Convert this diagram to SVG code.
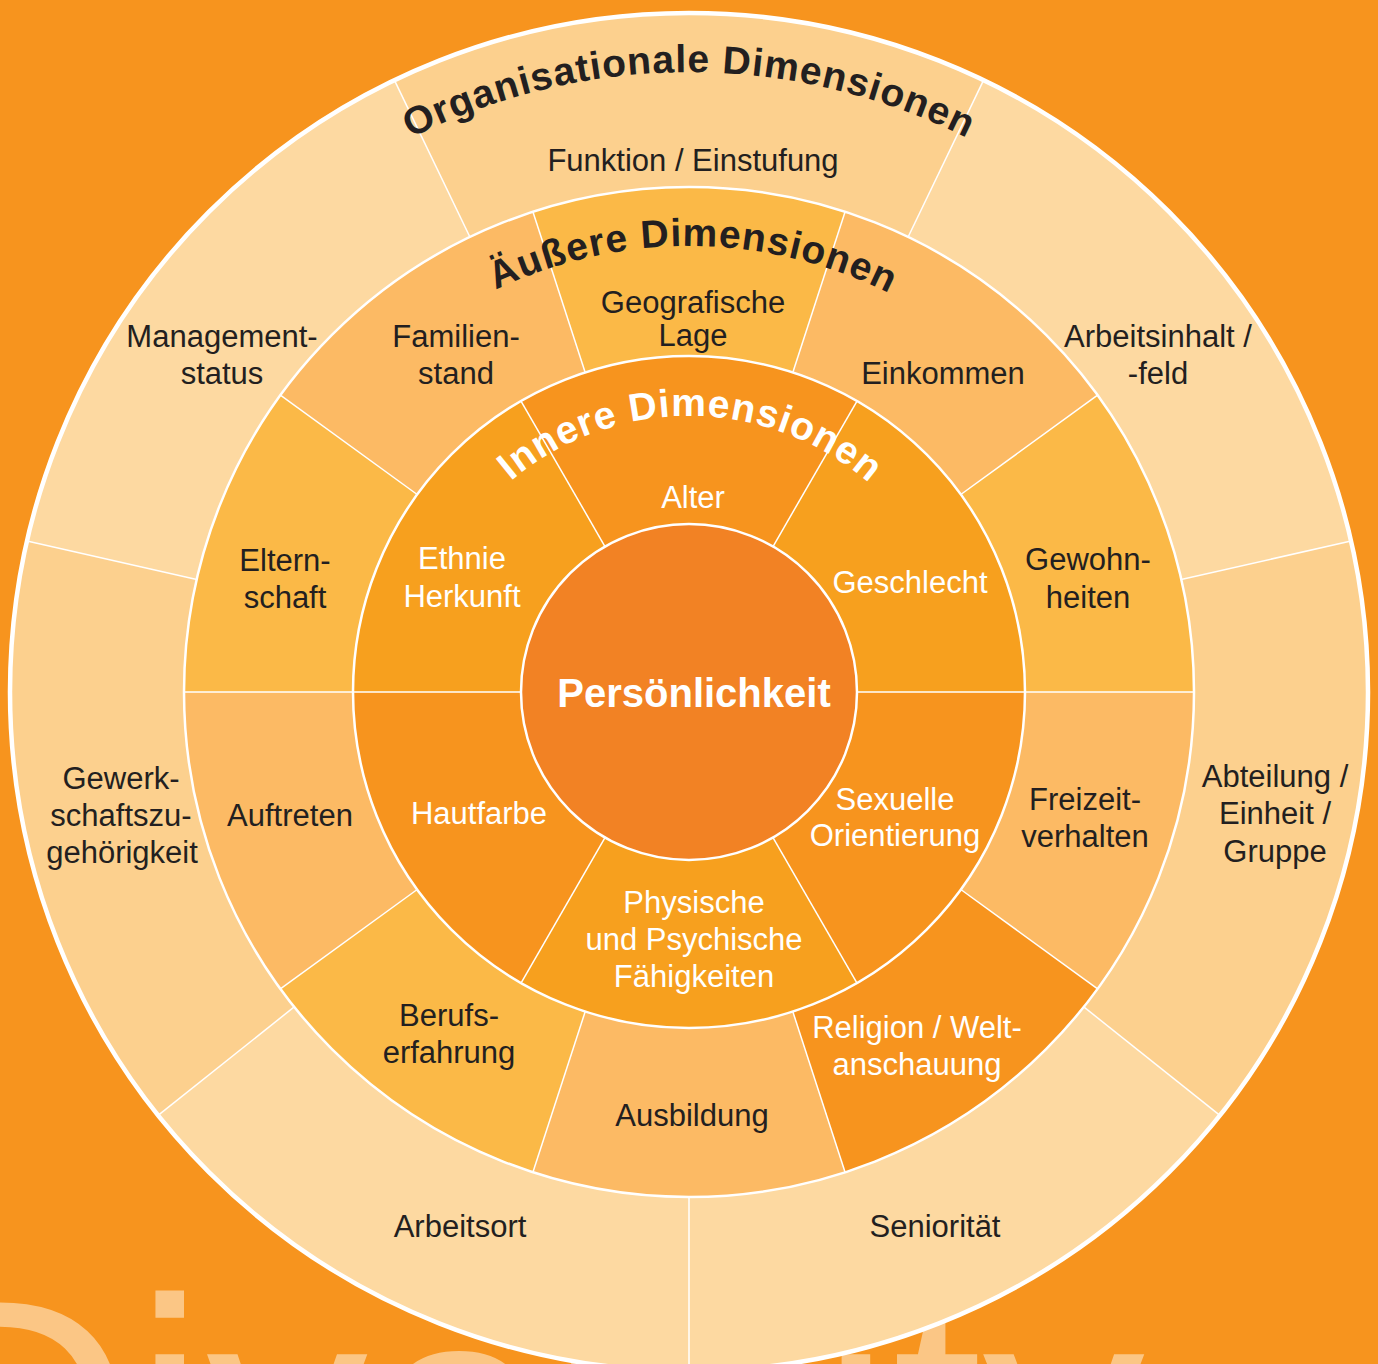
<svg xmlns="http://www.w3.org/2000/svg" width="1378" height="1364" viewBox="0 0 1378 1364">
  <defs>
    <style>
      .lbl { font-family: "Liberation Sans", Arial, sans-serif; font-size: 31px; text-anchor: middle; }
      .dark { fill: #231F20; }
      .light { fill: #FFFFFF; }
      .title { font-family: "Liberation Sans", Arial, sans-serif; font-weight: bold; font-size: 39px; letter-spacing: 1px; text-anchor: middle; }
      .ring { fill: none; stroke: #FFFFFF; stroke-width: 2.5; }
      .rad { stroke: #FFFFFF; stroke-width: 1.5; }
      .o1 { fill: #FCD08E; }
      .o2 { fill: #FDD9A1; }
      .m1 { fill: #FBB947; }
      .m2 { fill: #FCBA64; }
      .d1 { fill: #F7941E; }
      .d2 { fill: #F7A01E; }
    </style>
    <path id="arcOrg" d="M 69 692 A 620 620 0 0 1 1309 692"/>
    <path id="arcAus" d="M 243 692 A 446 446 0 0 1 1135 692"/>
    <path id="arcInn" d="M 413 692 A 276 276 0 0 1 965 692"/>
  </defs>

  <rect x="0" y="0" width="1378" height="1364" fill="#F7941E"/>
  <text id="watermark" x="-101" y="1526" font-family="'Liberation Sans', Arial, sans-serif" font-size="325" fill="#FBC685">Diversity</text>

  <!-- Outer ring: organisationale Dimensionen -->
  <g id="funktion">
    <path class="o1" d="M689,692 L394.4,80.2 A679,679 0 0 1 983.6,80.2 Z"/>
    <text class="lbl dark" x="693" y="171">Funktion / Einstufung</text>
  </g>
  <g id="arbeitsinhalt">
    <path class="o2" d="M689,692 L983.6,80.2 A679,679 0 0 1 1351,540.9 Z"/>
    <text class="lbl dark" x="1158" y="347">Arbeitsinhalt /</text>
    <text class="lbl dark" x="1158" y="384">-feld</text>
  </g>
  <g id="abteilung">
    <path class="o1" d="M689,692 L1351,540.9 A679,679 0 0 1 1219.9,1115.4 Z"/>
    <text class="lbl dark" x="1275" y="787">Abteilung /</text>
    <text class="lbl dark" x="1275" y="824">Einheit /</text>
    <text class="lbl dark" x="1275" y="862">Gruppe</text>
  </g>
  <g id="senioritaet">
    <path class="o2" d="M689,692 L1219.9,1115.4 A679,679 0 0 1 689,1371 Z"/>
    <text class="lbl dark" x="935" y="1237">Seniorität</text>
  </g>
  <g id="arbeitsort">
    <path class="o2" d="M689,692 L689,1371 A679,679 0 0 1 158.1,1115.4 Z"/>
    <text class="lbl dark" x="460" y="1237">Arbeitsort</text>
  </g>
  <g id="gewerkschaft">
    <path class="o1" d="M689,692 L158.1,1115.4 A679,679 0 0 1 27,540.9 Z"/>
    <text class="lbl dark" x="121" y="789">Gewerk-</text>
    <text class="lbl dark" x="121" y="826">schaftszu-</text>
    <text class="lbl dark" x="122" y="863">gehörigkeit</text>
  </g>
  <g id="management">
    <path class="o2" d="M689,692 L27,540.9 A679,679 0 0 1 394.4,80.2 Z"/>
    <text class="lbl dark" x="222" y="347">Management-</text>
    <text class="lbl dark" x="222" y="384">status</text>
  </g>

  <!-- Middle ring: äußere Dimensionen -->
  <g id="geografische-lage">
    <path class="m1" d="M689,692 L532.9,211.7 A505,505 0 0 1 845.1,211.7 Z"/>
    <text class="lbl dark" x="693" y="313">Geografische</text>
    <text class="lbl dark" x="693" y="346">Lage</text>
  </g>
  <g id="einkommen">
    <path class="m2" d="M689,692 L845.1,211.7 A505,505 0 0 1 1097.6,395.2 Z"/>
    <text class="lbl dark" x="943" y="384">Einkommen</text>
  </g>
  <g id="gewohnheiten">
    <path class="m1" d="M689,692 L1097.6,395.2 A505,505 0 0 1 1194,692 Z"/>
    <text class="lbl dark" x="1088" y="570">Gewohn-</text>
    <text class="lbl dark" x="1088" y="608">heiten</text>
  </g>
  <g id="freizeitverhalten">
    <path class="m2" d="M689,692 L1194,692 A505,505 0 0 1 1097.6,988.8 Z"/>
    <text class="lbl dark" x="1085" y="810">Freizeit-</text>
    <text class="lbl dark" x="1085" y="847">verhalten</text>
  </g>
  <g id="religion">
    <path class="d1" d="M689,692 L1097.6,988.8 A505,505 0 0 1 845.1,1172.3 Z"/>
    <text class="lbl light" x="917" y="1038">Religion / Welt-</text>
    <text class="lbl light" x="917" y="1075">anschauung</text>
  </g>
  <g id="ausbildung">
    <path class="m2" d="M689,692 L845.1,1172.3 A505,505 0 0 1 532.9,1172.3 Z"/>
    <text class="lbl dark" x="692" y="1126">Ausbildung</text>
  </g>
  <g id="berufserfahrung">
    <path class="m1" d="M689,692 L532.9,1172.3 A505,505 0 0 1 280.4,988.8 Z"/>
    <text class="lbl dark" x="449" y="1026">Berufs-</text>
    <text class="lbl dark" x="449" y="1063">erfahrung</text>
  </g>
  <g id="auftreten">
    <path class="m2" d="M689,692 L280.4,988.8 A505,505 0 0 1 184,692 Z"/>
    <text class="lbl dark" x="290" y="826">Auftreten</text>
  </g>
  <g id="elternschaft">
    <path class="m1" d="M689,692 L184,692 A505,505 0 0 1 280.4,395.2 Z"/>
    <text class="lbl dark" x="285" y="571">Eltern-</text>
    <text class="lbl dark" x="285" y="608">schaft</text>
  </g>
  <g id="familienstand">
    <path class="m2" d="M689,692 L280.4,395.2 A505,505 0 0 1 532.9,211.7 Z"/>
    <text class="lbl dark" x="456" y="347">Familien-</text>
    <text class="lbl dark" x="456" y="384">stand</text>
  </g>

  <!-- Inner ring: innere Dimensionen -->
  <g id="alter">
    <path class="d1" d="M689,692 L521,401 A336,336 0 0 1 857,401 Z"/>
    <text class="lbl light" x="693" y="508">Alter</text>
  </g>
  <g id="geschlecht">
    <path class="d2" d="M689,692 L857,401 A336,336 0 0 1 1025,692 Z"/>
    <text class="lbl light" x="910" y="593">Geschlecht</text>
  </g>
  <g id="sexuelle-orientierung">
    <path class="d1" d="M689,692 L1025,692 A336,336 0 0 1 857,983 Z"/>
    <text class="lbl light" x="895" y="810">Sexuelle</text>
    <text class="lbl light" x="895" y="846">Orientierung</text>
  </g>
  <g id="faehigkeiten">
    <path class="d2" d="M689,692 L857,983 A336,336 0 0 1 521,983 Z"/>
    <text class="lbl light" x="694" y="913">Physische</text>
    <text class="lbl light" x="694" y="950">und Psychische</text>
    <text class="lbl light" x="694" y="987">Fähigkeiten</text>
  </g>
  <g id="hautfarbe">
    <path class="d1" d="M689,692 L521,983 A336,336 0 0 1 353,692 Z"/>
    <text class="lbl light" x="479" y="824">Hautfarbe</text>
  </g>
  <g id="ethnie">
    <path class="d2" d="M689,692 L353,692 A336,336 0 0 1 521,401 Z"/>
    <text class="lbl light" x="462" y="569">Ethnie</text>
    <text class="lbl light" x="462" y="607">Herkunft</text>
  </g>

  <!-- Center -->
  <g id="persoenlichkeit">
    <circle cx="689" cy="692" r="168" fill="#F28224"/>
    <text x="694" y="707" font-family="'Liberation Sans', Arial, sans-serif" font-weight="bold" font-size="40" fill="#FFFFFF" text-anchor="middle">Persönlichkeit</text>
  </g>

  <!-- Separators -->
  <g id="connectors">
    <line class="rad" x1="469.9" y1="237" x2="394.4" y2="80.2"/>
    <line class="rad" x1="908.1" y1="237" x2="983.6" y2="80.2"/>
    <line class="rad" x1="1181.3" y1="579.6" x2="1351" y2="540.9"/>
    <line class="rad" x1="196.7" y1="579.6" x2="27" y2="540.9"/>
    <line class="rad" x1="1083.8" y1="1006.9" x2="1219.9" y2="1115.4"/>
    <line class="rad" x1="294.2" y1="1006.9" x2="158.1" y2="1115.4"/>
    <line class="rad" x1="689" y1="1197" x2="689" y2="1371"/>

    <line class="rad" x1="585.2" y1="372.4" x2="532.9" y2="211.7"/>
    <line class="rad" x1="792.8" y1="372.4" x2="845.1" y2="211.7"/>
    <line class="rad" x1="960.8" y1="494.5" x2="1097.6" y2="395.2"/>
    <line class="rad" x1="417.2" y1="494.5" x2="280.4" y2="395.2"/>
    <line class="rad" x1="1025" y1="692" x2="1194" y2="692"/>
    <line class="rad" x1="353" y1="692" x2="184" y2="692"/>
    <line class="rad" x1="960.8" y1="889.5" x2="1097.6" y2="988.8"/>
    <line class="rad" x1="417.2" y1="889.5" x2="280.4" y2="988.8"/>
    <line class="rad" x1="792.8" y1="1011.6" x2="845.1" y2="1172.3"/>
    <line class="rad" x1="585.2" y1="1011.6" x2="532.9" y2="1172.3"/>

    <line class="rad" x1="605" y1="546.5" x2="521" y2="401"/>
    <line class="rad" x1="773" y1="546.5" x2="857" y2="401"/>
    <line class="rad" x1="857" y1="692" x2="1025" y2="692"/>
    <line class="rad" x1="521" y1="692" x2="353" y2="692"/>
    <line class="rad" x1="773" y1="837.5" x2="857" y2="983"/>
    <line class="rad" x1="605" y1="837.5" x2="521" y2="983"/>

    <circle class="ring" cx="689" cy="692" r="168"/>
    <circle class="ring" cx="689" cy="692" r="336"/>
    <circle class="ring" cx="689" cy="692" r="505"/>
    <circle cx="689" cy="692" r="679" fill="none" stroke="#FFFFFF" stroke-width="4.5"/>
  </g>

  <!-- Ring titles -->
  <g id="titles">
    <text class="title dark"><textPath href="#arcOrg" startOffset="50%">Organisationale Dimensionen</textPath></text>
    <text class="title dark"><textPath href="#arcAus" startOffset="50.3%">Äußere Dimensionen</textPath></text>
    <text class="title light"><textPath href="#arcInn" startOffset="50.2%">Innere Dimensionen</textPath></text>
  </g>
</svg>
